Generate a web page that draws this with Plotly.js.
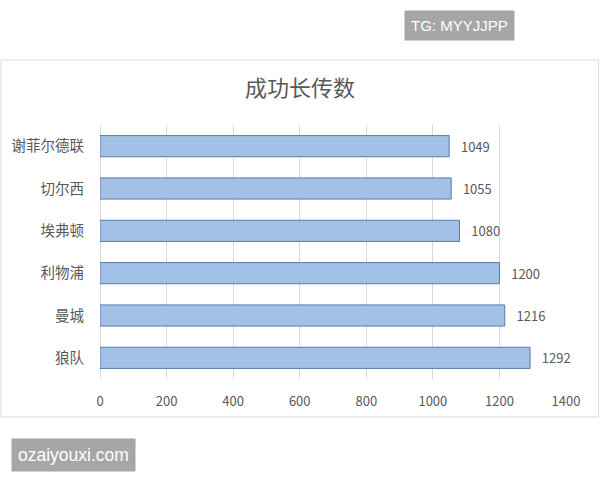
<!DOCTYPE html>
<html><head><meta charset="utf-8">
<script src="https://cdn.plot.ly/plotly-3.0.1.min.js"></script>
<style>html,body{margin:0;padding:0;background:#fff;}#chart{width:600px;height:480px;}</style>
</head><body><div id="chart"></div>
<script>
const categories = ['谢菲尔德联', '切尔西', '埃弗顿', '利物浦', '曼城', '狼队'];
const values = [1049, 1055, 1080, 1200, 1216, 1292];
const tickVals = [0, 200, 400, 600, 800, 1000, 1200, 1400];
const chartTitle = '成功长传数';
const watermarkTop = 'TG: MYYJJPP';
const watermarkBottom = 'ozaiyouxi.com';

const cjk = '"Noto Sans CJK SC", "Microsoft YaHei", sans-serif';
const grey = '#595959';

const trace = {
  type: 'bar', orientation: 'h',
  y: categories, x: values,
  text: values.map(v => '\u00a0\u00a0\u00a0' + v), textposition: 'outside',
  textfont: {family: cjk, size: 13, color: grey},
  cliponaxis: false,
  width: 0.5,
  marker: {color: '#a3c0e6', line: {color: '#5a7ca8', width: 1}},
  hoverinfo: 'none'
};

const pw = 466, ph = 254, ml = 100, mt = 125;
const px = v => (v - ml) / pw;
const py = v => (mt + ph - v) / ph;

const layout = {
  width: 600, height: 480,
  margin: {l: ml, r: 600 - ml - pw, t: mt, b: 480 - mt - ph},
  paper_bgcolor: '#ffffff', plot_bgcolor: '#ffffff',
  showlegend: false,
  title: {text: chartTitle, x: 0.5, xanchor: 'center', y: 1 - 88/480, yanchor: 'middle',
          font: {family: cjk, size: 22, color: grey}},
  xaxis: {range: [0, 1400], tickvals: tickVals, showgrid: true, gridcolor: '#d9d9d9', gridwidth: 1,
          zeroline: true, zerolinecolor: '#d9d9d9', zerolinewidth: 1, showline: false,
          ticks: 'outside', ticklen: 10, tickcolor: 'rgba(0,0,0,0)',
          tickfont: {family: cjk, size: 13, color: grey}, fixedrange: true},
  yaxis: {autorange: 'reversed', showgrid: false, zeroline: false, showline: false,
          ticks: 'outside', ticklen: 12, tickcolor: 'rgba(0,0,0,0)',
          tickfont: {family: cjk, size: 14.5, color: grey}, fixedrange: true},
  shapes: [
    {type: 'rect', xref: 'paper', yref: 'paper', x0: px(1), x1: px(598.5), y0: py(60), y1: py(417),
     line: {color: '#d9d9d9', width: 1}, fillcolor: 'rgba(0,0,0,0)', layer: 'below'}
  ],
  annotations: [
    {text: watermarkTop, xref: 'paper', yref: 'paper', x: px(459), y: py(25), xanchor: 'center', yanchor: 'middle',
     showarrow: false, bgcolor: '#a6a6a6', borderpad: 6, font: {family: 'Liberation Sans, Arial', size: 15, color: '#ffffff'}},
    {text: watermarkBottom, xref: 'paper', yref: 'paper', x: px(73.5), y: py(455), xanchor: 'center', yanchor: 'middle',
     showarrow: false, bgcolor: '#a6a6a6', borderpad: 6, font: {family: 'Liberation Sans, Arial', size: 17.5, color: '#ffffff'}}
  ]
};

Plotly.newPlot('chart', [trace], layout, {displayModeBar: false, staticPlot: true});
</script></body></html>
